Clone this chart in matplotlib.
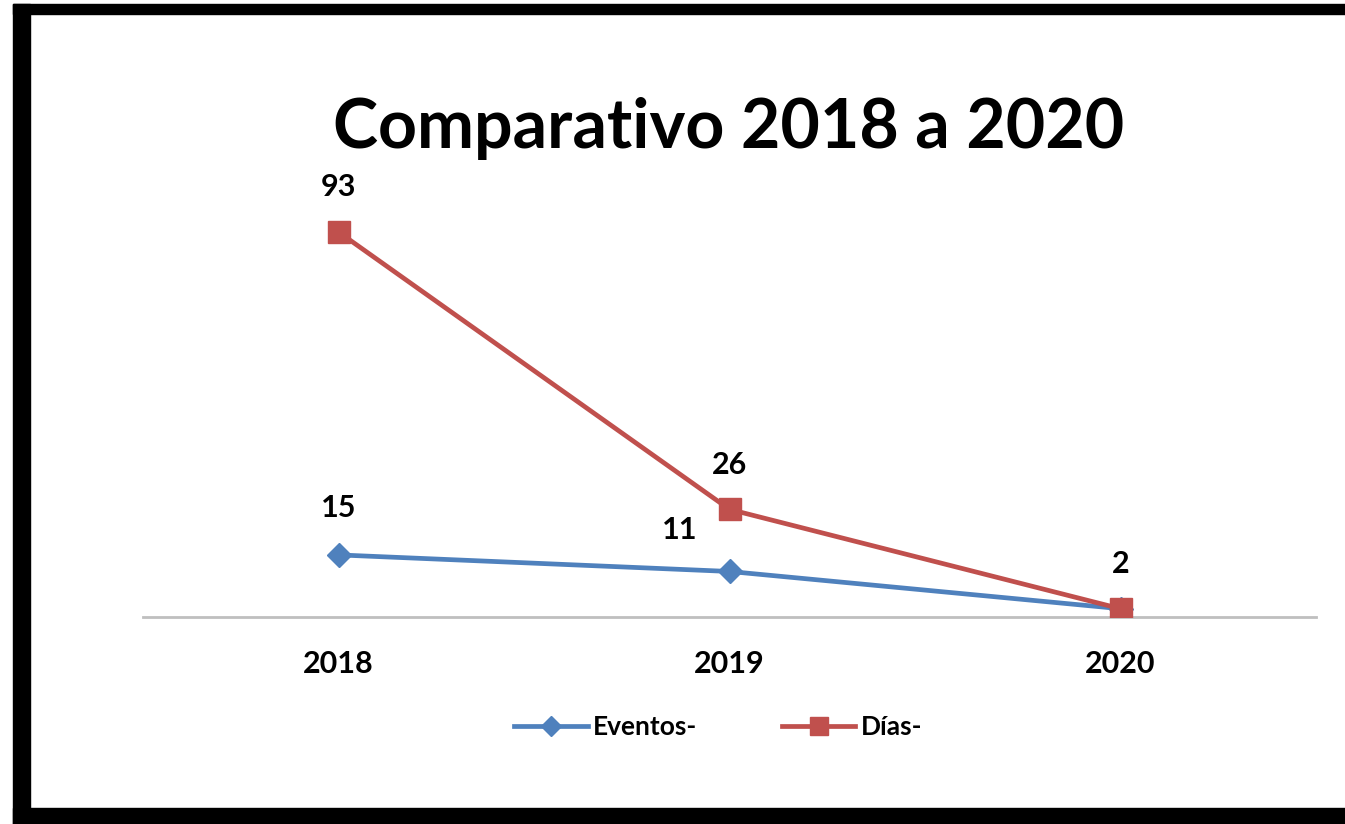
import matplotlib.pyplot as plt
from matplotlib.patches import Rectangle

years = ['2018', '2019', '2020']
eventos = [15, 11, 2]
dias = [93, 26, 2]

blue = '#4F81BD'
red = '#C0504D'
font = ['Lato', 'DejaVu Sans']

fig = plt.figure(figsize=(13.45, 8.24), dpi=100)
fig.patch.set_facecolor('white')

# black frame (left, top, bottom; right edge is cut off in the original)
fig.patches.append(Rectangle((13 / 1345, 0), 17 / 1345, 820 / 824, transform=fig.transFigure,
                             color='black', zorder=0))
fig.patches.append(Rectangle((13 / 1345, 810 / 824), 1332 / 1345, 10 / 824, transform=fig.transFigure,
                             color='black', zorder=0))
fig.patches.append(Rectangle((13 / 1345, 0), 1332 / 1345, 16 / 824, transform=fig.transFigure,
                             color='black', zorder=0))

ax = fig.add_axes([143 / 1345, 207 / 824, (1316 - 143) / 1345, 414 / 824])
ax.set_facecolor('none')
x = list(range(len(years)))
ax.plot(x, eventos, color=blue, lw=3.4, marker='D', ms=12, label='Eventos-', zorder=3)
ax.plot(x, dias, color=red, lw=3.4, marker='s', ms=16, label='Días-', zorder=4)

ax.set_xlim(-0.5, 2.5)
ax.set_ylim(0, 100)
for s in ['top', 'right', 'left']:
    ax.spines[s].set_visible(False)
ax.spines['bottom'].set_color('#BFBFBF')
ax.spines['bottom'].set_linewidth(2)
ax.set_yticks([])
ax.set_xticks(x)
ax.set_xticklabels(years, fontsize=22, fontweight='bold', family=font)
ax.tick_params(axis='x', length=0, pad=24)

# data labels (where both series share a value, one label is shown)
offs_e = [(0, 24), (-36, 20), (0, 24)]
for i, v in enumerate(eventos):
    if v == dias[i]:
        continue
    ax.annotate(str(v), (i, v), xytext=offs_e[i], textcoords='offset points', ha='center', va='bottom',
                fontsize=22, fontweight='bold', family=font)
for i, v in enumerate(dias):
    ax.annotate(str(v), (i, v), xytext=(0, 22), textcoords='offset points', ha='center', va='bottom',
                fontsize=22, fontweight='bold', family=font)

fig.text(729 / 1345, 1 - 128 / 824, 'Comparativo 2018 a 2020', ha='center', va='center',
         fontsize=49, fontweight='bold', family=font)

leg = fig.legend(loc='center', bbox_to_anchor=(718 / 1345, 1 - 727 / 824), ncol=2, frameon=False,
                 prop={'family': font, 'weight': 'bold', 'size': 19}, handlelength=2.8,
                 columnspacing=3.2, handletextpad=0.2, markerscale=0.85)

fig.savefig('out.png', dpi=100)
